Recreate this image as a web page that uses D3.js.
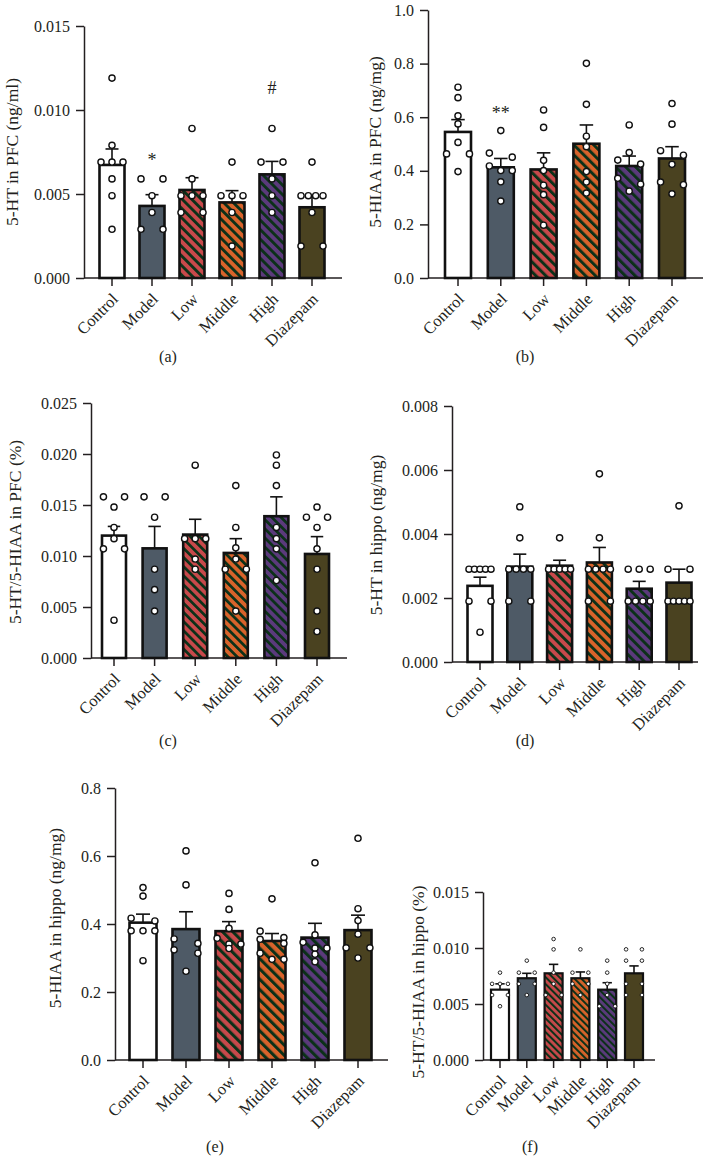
<!DOCTYPE html>
<meta charset="utf-8">
<style>
body { margin: 0; background: #fff; }
svg text { font-family: "Liberation Serif", "DejaVu Serif", serif; fill: #231f20; }
.axis path, .axis line { stroke: #231f20; stroke-width: 1.5; }
</style>
<body>
<script src="https://d3js.org/d3.v7.min.js"></script>
<script>
var groups = ["Control", "Model", "Low", "Middle", "High", "Diazepam"];

// (a) 5-HT in PFC
var meansA = [0.00673, 0.00429, 0.00524, 0.0045, 0.00617, 0.00421];
var semsA = [0.00095, 0.00067, 0.00073, 0.0007, 0.00077, 0.00063];
var pointsA = [
  [0.0119, 0.0079, 0.0069, 0.0069, 0.0069, 0.0059, 0.0049, 0.0029],
  [0.0059, 0.0059, 0.0049, 0.0039, 0.0029, 0.0029],
  [0.0089, 0.0059, 0.0049, 0.0049, 0.0049, 0.0039, 0.0039],
  [0.0069, 0.0049, 0.0049, 0.0049, 0.0039, 0.0019],
  [0.0089, 0.0069, 0.0069, 0.0059, 0.0049, 0.0039],
  [0.0069, 0.0049, 0.0049, 0.0049, 0.0049, 0.0039, 0.0019, 0.0019]
];
var ticksA = [0, 0.005, 0.010, 0.015];

// (b) 5-HIAA in PFC
var meansB = [0.545, 0.413, 0.405, 0.501, 0.418, 0.446];
var semsB = [0.046, 0.033, 0.062, 0.070, 0.037, 0.044];
var pointsB = [
  [0.712, 0.673, 0.605, 0.575, 0.506, 0.463, 0.463, 0.397],
  [0.550, 0.466, 0.451, 0.418, 0.401, 0.401, 0.359, 0.287],
  [0.627, 0.562, 0.439, 0.401, 0.346, 0.311, 0.197],
  [0.801, 0.648, 0.529, 0.490, 0.397, 0.358, 0.317],
  [0.571, 0.468, 0.440, 0.425, 0.372, 0.350, 0.324],
  [0.651, 0.574, 0.475, 0.458, 0.424, 0.358, 0.348, 0.314]
];
var ticksB = [0, 0.2, 0.4, 0.6, 0.8, 1.0];

// (c) 5-HT/5-HIAA in PFC
var meansC = [0.0120, 0.01075, 0.0121, 0.0103, 0.0139, 0.0102];
var semsC = [0.0009, 0.00215, 0.0015, 0.0014, 0.0019, 0.0017];
var pointsC = [
  [0.0158, 0.0158, 0.0148, 0.0128, 0.0117, 0.0107, 0.0107, 0.0037],
  [0.0158, 0.0158, 0.0138, 0.0087, 0.0067, 0.0046],
  [0.0189, 0.0117, 0.0117, 0.0117, 0.0097, 0.0087],
  [0.0169, 0.0128, 0.0108, 0.0097, 0.0087, 0.0087, 0.0046],
  [0.0199, 0.0189, 0.0169, 0.0128, 0.0117, 0.0107, 0.0076],
  [0.0148, 0.0138, 0.0138, 0.0128, 0.0107, 0.0087, 0.0046, 0.0026]
];
var ticksC = [0, 0.005, 0.010, 0.015, 0.020, 0.025];

// (d) 5-HT in hippo
var meansD = [0.00238, 0.00298, 0.00301, 0.00311, 0.00229, 0.00248];
var semsD = [0.00027, 0.00039, 0.00017, 0.00047, 0.00023, 0.00042];
var pointsD = [
  [0.0029, 0.0029, 0.0029, 0.0029, 0.0029, 0.0019, 0.0019, 0.00093],
  [0.00485, 0.00388, 0.0029, 0.0029, 0.0029, 0.0029, 0.0019, 0.0019],
  [0.00388, 0.0029, 0.0029, 0.0029, 0.0029, 0.0029],
  [0.00588, 0.00388, 0.0029, 0.0029, 0.0029, 0.0029, 0.0019, 0.0019],
  [0.0029, 0.0029, 0.0029, 0.0019, 0.0019, 0.0019, 0.0019],
  [0.00488, 0.0029, 0.0029, 0.0019, 0.0019, 0.0019, 0.0019, 0.0019]
];
var ticksD = [0, 0.002, 0.004, 0.006, 0.008];

// (e) 5-HIAA in hippo
var meansE = [0.404, 0.385, 0.379, 0.350, 0.360, 0.382];
var semsE = [0.025, 0.051, 0.028, 0.022, 0.042, 0.044];
var pointsE = [
  [0.507, 0.482, 0.417, 0.409, 0.380, 0.380, 0.380, 0.292],
  [0.615, 0.515, 0.356, 0.343, 0.324, 0.314, 0.261],
  [0.490, 0.443, 0.387, 0.358, 0.341, 0.341, 0.328],
  [0.474, 0.379, 0.360, 0.355, 0.343, 0.314, 0.296, 0.296],
  [0.580, 0.368, 0.346, 0.329, 0.329, 0.311, 0.289],
  [0.652, 0.445, 0.410, 0.370, 0.330, 0.330, 0.300]
];
var ticksE = [0, 0.2, 0.4, 0.6, 0.8];

// (f) 5-HT/5-HIAA in hippo
var meansF = [0.00628, 0.0073, 0.00774, 0.0073, 0.00628, 0.00774];
var semsF = [0.00052, 0.00044, 0.0008, 0.00056, 0.00062, 0.00066];
var pointsF = [
  [0.0078, 0.0068, 0.0068, 0.0068, 0.0058, 0.0058, 0.0048],
  [0.00887, 0.0078, 0.0078, 0.0068, 0.0068, 0.0058],
  [0.0108, 0.00988, 0.0078, 0.0068, 0.0058, 0.0058],
  [0.00988, 0.0078, 0.0078, 0.0068, 0.0068, 0.0058],
  [0.00887, 0.0078, 0.0068, 0.0058, 0.0048, 0.0048],
  [0.00988, 0.00988, 0.00887, 0.00887, 0.0068, 0.0068, 0.0058, 0.0058]
];
var ticksF = [0, 0.005, 0.010, 0.015];

var titles = ["5-HT in PFC (ng/ml)", "5-HIAA in PFC (ng/mg)", "5-HT/5-HIAA in PFC (%)",
              "5-HT in hippo (ng/mg)", "5-HIAA in hippo (ng/mg)", "5-HT/5-HIAA in hippo (%)"];
var tags = ["(a)", "(b)", "(c)", "(d)", "(e)", "(f)"];

// significance marks: panel index, group, text, value
var marks = [
  {panel: 0, group: "Model", text: "*", value: 0.0075},
  {panel: 0, group: "High", text: "#", value: 0.0113},
  {panel: 1, group: "Model", text: "**", value: 0.644}
];

var fills = ["#ffffff", "#4e5a66", "#c8494b", "#d8632b", "#5b3a7c", "#4a4220"];
var striped = [false, false, true, true, true, false];
var stripeColor = "#0b3018";

var data = [
  {means: meansA, sems: semsA, points: pointsA, ticks: ticksA, fmt: ".3f"},
  {means: meansB, sems: semsB, points: pointsB, ticks: ticksB, fmt: ".1f"},
  {means: meansC, sems: semsC, points: pointsC, ticks: ticksC, fmt: ".3f"},
  {means: meansD, sems: semsD, points: pointsD, ticks: ticksD, fmt: ".3f"},
  {means: meansE, sems: semsE, points: pointsE, ticks: ticksE, fmt: ".1f"},
  {means: meansF, sems: semsF, points: pointsF, ticks: ticksF, fmt: ".3f"}
];

// layout of each panel (pixels)
var layout = [
  {x0: 84,  x1: 342, c0: 112, step: 40,   bw: 25, yTop: 26,  yBot: 278,  tx: 12,  ty: 152, gx: 168, gy: 362, r: 3.1},
  {x0: 428, x1: 703, c0: 458, step: 42.8, bw: 26, yTop: 10,  yBot: 278,  tx: 375, ty: 142, gx: 525, gy: 362, r: 3.1},
  {x0: 91,  x1: 347, c0: 114, step: 40.6, bw: 24, yTop: 403, yBot: 658,  tx: 15,  ty: 532, gx: 168, gy: 746, r: 3.1},
  {x0: 452, x1: 698, c0: 480, step: 39.8, bw: 25, yTop: 406, yBot: 662,  tx: 376, ty: 535, gx: 525, gy: 746, r: 3.1},
  {x0: 115, x1: 388, c0: 143, step: 43,   bw: 27, yTop: 788, yBot: 1060, tx: 55,  ty: 918, gx: 215, gy: 1152, r: 3.1},
  {x0: 483, x1: 655, c0: 500, step: 26.8, bw: 18, yTop: 892, yBot: 1060, tx: 418, ty: 982, gx: 530, gy: 1152, r: 1.8}
];

var svg = d3.select("body").append("svg")
    .attr("width", 704)
    .attr("height", 1164);
var defs = svg.append("defs");

function spread(vals, y, r, W) {
  var items = vals.map(function(v) { return {v: v, py: y(v)}; })
    .sort(function(a, b) { return a.py - b.py; });
  var out = [], grp = [];
  function place(g) {
    var n = g.length;
    g.forEach(function(it, i) {
      it.dx = n === 1 ? 0 : -W / 2 + i * W / (n - 1);
      out.push(it);
    });
  }
  items.forEach(function(it) {
    if (grp.length && it.py - grp[0].py >= 2 * r + 0.8) { place(grp); grp = []; }
    grp.push(it);
  });
  if (grp.length) place(grp);
  return out;
}

data.forEach(function(d, p) {
  var L = layout[p];
  var pi = 1 - L.bw / L.step;
  var x = d3.scaleBand().domain(groups)
      .range([L.c0 - L.step / 2, L.c0 + 5.5 * L.step])
      .paddingInner(pi).paddingOuter(pi / 2);
  var y = d3.scaleLinear().domain([0, d.ticks[d.ticks.length - 1]]).range([L.yBot, L.yTop]);
  var g = svg.append("g");

  // stripe patterns
  var period = L.bw * 0.27;
  groups.forEach(function(name, i) {
    if (!striped[i]) return;
    var pat = defs.append("pattern")
        .attr("id", "pat" + p + "-" + i)
        .attr("patternUnits", "userSpaceOnUse")
        .attr("width", period).attr("height", period)
        .attr("patternTransform", "rotate(-45)");
    pat.append("rect").attr("width", period).attr("height", period).attr("fill", fills[i]);
    pat.append("rect").attr("width", period * 0.42).attr("height", period).attr("fill", stripeColor);
  });

  // y axis
  g.append("g").attr("class", "axis")
      .attr("transform", "translate(" + L.x0 + ",0)")
      .call(d3.axisLeft(y).tickValues(d.ticks).tickFormat(d3.format(d.fmt))
        .tickSize(8).tickSizeOuter(0).tickPadding(6))
      .call(function(a) { a.selectAll("text").style("font-size", "16px").attr("fill", "#231f20"); });

  // x axis
  var xa = g.append("g").attr("class", "axis")
      .attr("transform", "translate(0," + L.yBot + ")")
      .call(d3.axisBottom(x).tickSize(8).tickSizeOuter(0));
  xa.select(".domain").remove();
  xa.append("line").attr("x1", L.x0).attr("x2", L.x1).attr("y1", 0).attr("y2", 0);
  xa.selectAll("text")
      .attr("x", 0).attr("y", 0).attr("dy", "0.35em")
      .attr("transform", "translate(3,18) rotate(-45)")
      .style("text-anchor", "end")
      .style("font-size", "16.5px")
      .attr("fill", "#231f20");

  // bars
  g.selectAll(".bar").data(d.means).enter().append("rect")
      .attr("x", function(m, i) { return x(groups[i]); })
      .attr("y", function(m) { return y(m); })
      .attr("width", x.bandwidth())
      .attr("height", function(m) { return L.yBot - y(m); })
      .attr("fill", function(m, i) { return striped[i] ? "url(#pat" + p + "-" + i + ")" : fills[i]; })
      .attr("stroke", "#111")
      .attr("stroke-width", p === 5 ? 2.2 : 2.6);

  // error bars (upper only)
  var cap = x.bandwidth() * 0.26;
  d.means.forEach(function(m, i) {
    var cx = x(groups[i]) + x.bandwidth() / 2;
    var top = y(m + d.sems[i]);
    g.append("line").attr("x1", cx).attr("x2", cx).attr("y1", y(m)).attr("y2", top)
        .attr("stroke", "#111").attr("stroke-width", 1.6);
    g.append("line").attr("x1", cx - cap).attr("x2", cx + cap).attr("y1", top).attr("y2", top)
        .attr("stroke", "#111").attr("stroke-width", 1.6);
  });

  // points
  d.points.forEach(function(vals, i) {
    var cx = x(groups[i]) + x.bandwidth() / 2;
    var pts = spread(vals, y, L.r, x.bandwidth() * 0.88);
    g.selectAll(null).data(pts).enter().append("circle")
        .attr("cx", function(q) { return cx + q.dx; })
        .attr("cy", function(q) { return q.py; })
        .attr("r", L.r)
        .attr("fill", "#fff")
        .attr("stroke", "#111")
        .attr("stroke-width", p === 5 ? 0.9 : 1.4);
  });

  // y title
  g.append("text")
      .attr("transform", "translate(" + L.tx + "," + L.ty + ") rotate(-90)")
      .attr("dy", "0.35em")
      .attr("text-anchor", "middle")
      .style("font-size", "17.5px")
      .text(titles[p]);

  // panel tag
  g.append("text")
      .attr("x", L.gx).attr("y", L.gy)
      .attr("text-anchor", "middle")
      .style("font-size", "16px")
      .text(tags[p]);

  marks.filter(function(k) { return k.panel === p; }).forEach(function(k) {
    g.append("text")
        .attr("x", x(k.group) + x.bandwidth() / 2)
        .attr("y", y(k.value))
        .attr("dy", k.text === "#" ? "0.35em" : "0.75em")
        .attr("text-anchor", "middle")
        .style("font-size", "18px")
        .text(k.text);
  });
});
</script>
